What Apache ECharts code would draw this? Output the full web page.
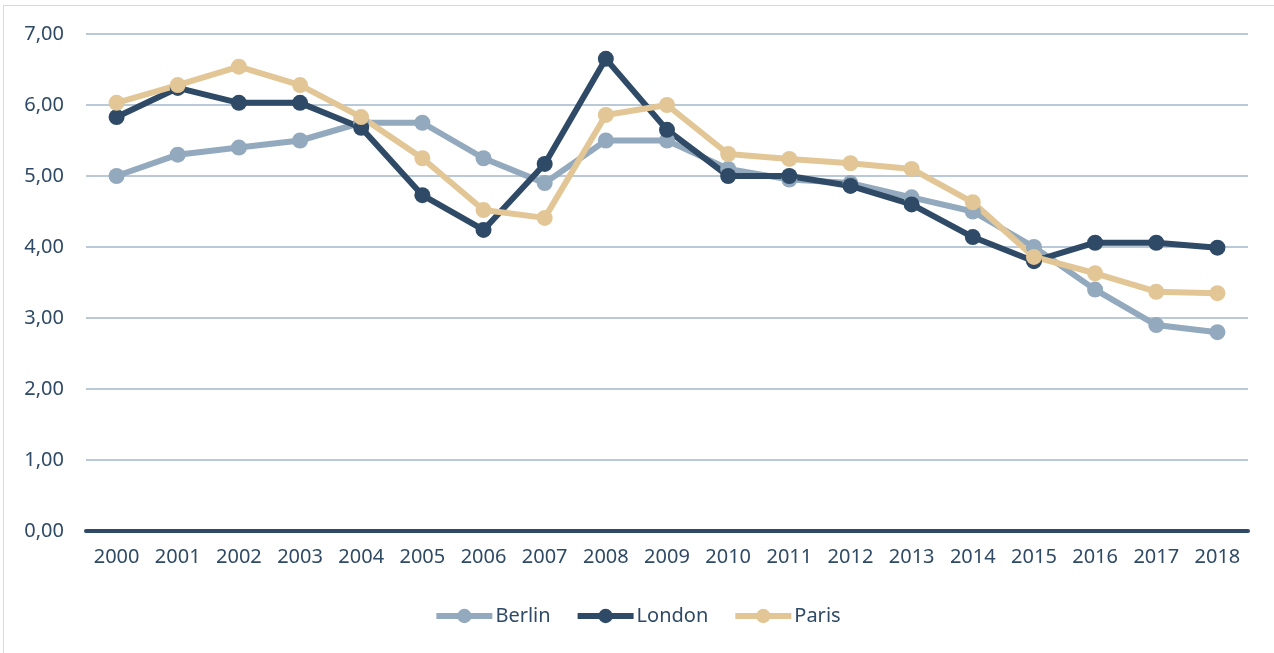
<!DOCTYPE html>
<html>
<head>
<meta charset="utf-8">
<script src="https://cdn.jsdelivr.net/npm/echarts@6/dist/echarts.min.js"></script>
<style>
  html, body { margin: 0; padding: 0; background: #fff; }
  #frame { position: absolute; left: 3px; top: 5px; width: 1271px; height: 648px;
           border-left: 1px solid #d9d9d9; border-top: 1px solid #d9d9d9; }
  #chart { position: absolute; left: 0; top: 0; width: 1274px; height: 653px; }
</style>
</head>
<body>
<div id="frame"></div>
<div id="chart"></div>
<script>
var years = ['2000','2001','2002','2003','2004','2005','2006','2007','2008','2009',
             '2010','2011','2012','2013','2014','2015','2016','2017','2018'];
var berlin = [5.00, 5.30, 5.40, 5.50, 5.75, 5.75, 5.25, 4.90, 5.50, 5.50,
              5.10, 4.95, 4.90, 4.70, 4.50, 4.00, 3.40, 2.90, 2.80];
var london = [5.83, 6.24, 6.03, 6.03, 5.68, 4.73, 4.24, 5.17, 6.65, 5.65,
              5.00, 5.00, 4.86, 4.60, 4.14, 3.80, 4.06, 4.06, 3.99];
var paris  = [6.03, 6.28, 6.54, 6.28, 5.83, 5.25, 4.52, 4.41, 5.86, 6.00,
              5.31, 5.24, 5.18, 5.10, 4.63, 3.86, 3.63, 3.37, 3.35];

var textColor = '#2e4a66';
var font = 'Noto Sans';

function makeSeries(name, data, color) {
  return {
    name: name,
    type: 'line',
    data: data,
    symbol: 'circle',
    symbolSize: 16,
    lineStyle: { width: 6, color: color },
    itemStyle: { color: color },
    animation: false
  };
}

var chart = echarts.init(document.getElementById('chart'));
chart.setOption({
  animation: false,
  grid: { left: 86, right: 26, top: 34, bottom: 122, containLabel: false },
  legend: {
    bottom: 22,
    left: 'center',
    itemWidth: 56,
    itemHeight: 18,
    itemGap: 24,
    lineStyle: { width: 6 },
    textStyle: { color: textColor, fontSize: 20, fontFamily: font, padding: [0, 0, 0, -2] },
    data: ['Berlin', 'London', 'Paris']
  },
  xAxis: {
    type: 'category',
    data: years,
    boundaryGap: true,
    axisLine: { show: true, lineStyle: { color: '#2e4a66', width: 4 } },
    axisTick: { show: false },
    axisLabel: { color: textColor, fontSize: 20, fontFamily: font, margin: 16 }
  },
  yAxis: {
    type: 'value',
    min: 0,
    max: 7,
    interval: 1,
    axisLine: { show: false },
    axisTick: { show: false },
    axisLabel: {
      color: textColor, fontSize: 20, fontFamily: font, margin: 22,
      formatter: function (v) { return v.toFixed(2).replace('.', ','); }
    },
    splitLine: { lineStyle: { color: '#b9c9d8', width: 2 } }
  },
  series: [
    makeSeries('Berlin', berlin, '#93a9bd'),
    makeSeries('London', london, '#2e4a66'),
    makeSeries('Paris', paris, '#e2c696')
  ]
});
</script>
</body>
</html>
